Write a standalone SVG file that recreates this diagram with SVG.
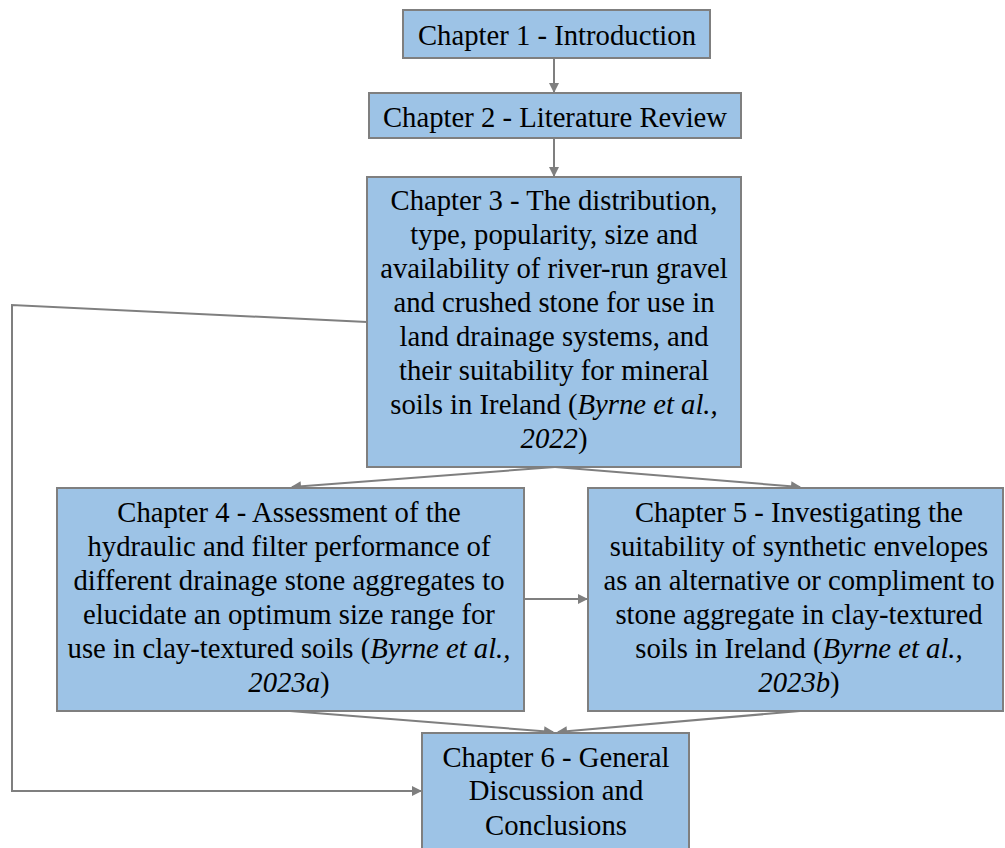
<svg xmlns="http://www.w3.org/2000/svg" width="1005" height="848" viewBox="0 0 1005 848">
<defs>
<style>
.box{fill:#9DC3E6;stroke:#7F7F7F;stroke-width:2}
.t{font-family:"Liberation Serif","Times New Roman",serif;font-size:28.7px;fill:#000;text-anchor:middle}
.i{font-style:italic}
.c{fill:none;stroke:#7F7F7F;stroke-width:2}
</style>
<marker id="ah" viewBox="0 0 10 10" refX="9" refY="5" markerWidth="5" markerHeight="5" orient="auto" markerUnits="strokeWidth">
<path d="M0,0 L10,5 L0,10 z" fill="#7F7F7F"/>
</marker>
</defs>
<rect width="1005" height="848" fill="#fff"/>
<g id="connectors">
<line class="c" x1="554" y1="58" x2="554" y2="92" marker-end="url(#ah)"/>
<line class="c" x1="554" y1="138" x2="554" y2="176" marker-end="url(#ah)"/>
<line class="c" x1="555" y1="467" x2="292" y2="487" marker-end="url(#ah)"/>
<line class="c" x1="555" y1="467" x2="800" y2="487" marker-end="url(#ah)"/>
<line class="c" x1="524" y1="599" x2="587" y2="599" marker-end="url(#ah)"/>
<line class="c" x1="290" y1="711" x2="553" y2="732" marker-end="url(#ah)"/>
<line class="c" x1="800" y1="711" x2="558" y2="732" marker-end="url(#ah)"/>
<polyline class="c" points="367,322 12,305 12,791 421,791" marker-end="url(#ah)"/>
</g>
<g id="ch1">
<rect class="box" x="403" y="10" width="307" height="48"/>
<text class="t" x="557" y="45">Chapter 1 - Introduction</text>
</g>
<g id="ch2">
<rect class="box" x="369" y="93" width="372" height="45"/>
<text class="t" x="555" y="127">Chapter 2 - Literature Review</text>
</g>
<g id="ch3">
<rect class="box" x="367" y="177" width="374" height="290"/>
<text class="t" x="554" y="210">Chapter 3 - The distribution,</text>
<text class="t" x="554" y="244">type, popularity, size and</text>
<text class="t" x="554" y="278">availability of river-run gravel</text>
<text class="t" x="554" y="312">and crushed stone for use in</text>
<text class="t" x="554" y="346">land drainage systems, and</text>
<text class="t" x="554" y="380">their suitability for mineral</text>
<text class="t" x="554" y="414">soils in Ireland (<tspan class="i">Byrne et al.,</tspan></text>
<text class="t" x="554" y="448"><tspan class="i">2022</tspan>)</text>
</g>
<g id="ch4">
<rect class="box" x="57" y="488" width="467" height="223"/>
<text class="t" x="289" y="522">Chapter 4 - Assessment of the</text>
<text class="t" x="289" y="556">hydraulic and filter performance of</text>
<text class="t" x="289" y="590">different drainage stone aggregates to</text>
<text class="t" x="289" y="624">elucidate an optimum size range for</text>
<text class="t" x="289" y="658">use in clay-textured soils (<tspan class="i">Byrne et al.,</tspan></text>
<text class="t" x="289" y="692"><tspan class="i">2023a</tspan>)</text>
</g>
<g id="ch5">
<rect class="box" x="588" y="488" width="415" height="223"/>
<text class="t" x="799" y="522">Chapter 5 - Investigating the</text>
<text class="t" x="799" y="556">suitability of synthetic envelopes</text>
<text class="t" x="799" y="590">as an alternative or compliment to</text>
<text class="t" x="799" y="624">stone aggregate in clay-textured</text>
<text class="t" x="799" y="658">soils in Ireland (<tspan class="i">Byrne et al.,</tspan></text>
<text class="t" x="799" y="692"><tspan class="i">2023b</tspan>)</text>
</g>
<g id="ch6">
<rect class="box" x="422" y="733" width="267" height="125"/>
<text class="t" x="556" y="767">Chapter 6 - General</text>
<text class="t" x="556" y="800">Discussion and</text>
<text class="t" x="556" y="835">Conclusions</text>
</g>
</svg>
